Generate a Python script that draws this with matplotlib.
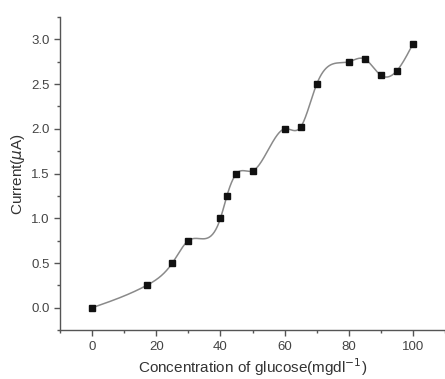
import numpy as np
import matplotlib.pyplot as plt
from matplotlib.ticker import MultipleLocator

FONT_SIZE = 11
TICK_SIZE = 9.5

# data
glucose = [0, 17, 25, 30, 40, 42, 45, 50, 60, 65, 70, 80, 85, 90, 95, 100]
current = [0.0, 0.25, 0.5, 0.75, 1.0, 1.25, 1.5, 1.53, 2.0, 2.02, 2.5, 2.75, 2.78, 2.6, 2.65, 2.95]


def natural_spline(x, y, n=600):
    # plain natural cubic spline for the connecting line
    x = np.asarray(x, float)
    y = np.asarray(y, float)
    k = len(x)
    h = np.diff(x)
    A = np.zeros((k, k))
    b = np.zeros(k)
    A[0, 0] = A[-1, -1] = 1
    for i in range(1, k - 1):
        A[i, i - 1] = h[i - 1]
        A[i, i] = 2 * (h[i - 1] + h[i])
        A[i, i + 1] = h[i]
        b[i] = 3 * ((y[i + 1] - y[i]) / h[i] - (y[i] - y[i - 1]) / h[i - 1])
    c = np.linalg.solve(A, b)
    xs = np.linspace(x[0], x[-1], n)
    idx = np.clip(np.searchsorted(x, xs) - 1, 0, k - 2)
    dx = xs - x[idx]
    hi = h[idx]
    bb = (y[idx + 1] - y[idx]) / hi - hi * (2 * c[idx] + c[idx + 1]) / 3
    dd = (c[idx + 1] - c[idx]) / (3 * hi)
    ys = y[idx] + bb * dx + c[idx] * dx ** 2 + dd * dx ** 3
    return xs, ys


plt.rcParams["font.family"] = ["Liberation Sans", "DejaVu Sans"]
fig = plt.figure(figsize=(4.45, 3.79), dpi=100)
ax = fig.add_axes([0.135, 0.129, 0.865, 0.826])

xs, ys = natural_spline(glucose, current)
ax.plot(xs, ys, color="#8a8a8a", linewidth=1.1, zorder=2)
ax.plot(glucose, current, "s", color="#111111", markersize=4.6, zorder=3)

ax.set_xlim(-10, 110)
ax.set_ylim(-0.25, 3.25)
ax.xaxis.set_major_locator(MultipleLocator(20))
ax.xaxis.set_minor_locator(MultipleLocator(10))
ax.yaxis.set_major_locator(MultipleLocator(0.5))
ax.yaxis.set_minor_locator(MultipleLocator(0.25))
ax.yaxis.set_major_formatter(plt.FormatStrFormatter("%.1f"))

for axis in ["top", "right"]:
    ax.spines[axis].set_visible(False)
for axis in ["left", "bottom"]:
    ax.spines[axis].set_color("#555555")
    ax.spines[axis].set_linewidth(1.0)
ax.tick_params(which="major", length=4, width=1, color="#555555", labelsize=TICK_SIZE, labelcolor="#444444")
ax.tick_params(which="minor", length=2.5, width=1, color="#555555")

ax.set_xlabel("Concentration of glucose(mgdl$^{-1}$)", fontsize=FONT_SIZE, color="#333333", labelpad=3)
ax.set_ylabel("Current($\\mu$A)", fontsize=FONT_SIZE, color="#333333", labelpad=3)

fig.savefig("out.png", dpi=100)
